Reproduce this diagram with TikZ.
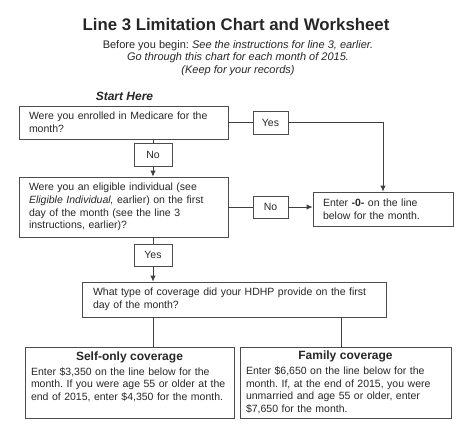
\documentclass[tikz,border=0pt]{standalone}
\usepackage{fontspec}
\setmainfont{Liberation Sans}
\frenchspacing
\usetikzlibrary{arrows.meta,positioning}

\tikzstyle{block} = [rectangle, draw=black!70, line width=0.8pt, text=black!85, align=left, font=\fontsize{10.5}{12.6}\selectfont, inner xsep=10pt, inner ysep=0pt]
\tikzstyle{answer} = [rectangle, draw=black!70, line width=0.8pt, text=black!85, font=\fontsize{10.5}{12.6}\selectfont, inner xsep=0pt, inner ysep=0pt]
\tikzstyle{arrow} = [draw=black!75, line width=0.9pt, -{Latex[length=6pt,width=5.5pt]}]
\tikzstyle{line} = [draw=black!75, line width=0.9pt]

\begin{document}
\begin{tikzpicture}[x=1pt, y=-1pt, node distance=32pt]
    \useasboundingbox (0,0) rectangle (474,433);

    % heading
    \node[font=\fontsize{16.8}{20}\selectfont\bfseries, text=black!85] (title) at (236,25) {Line 3 Limitation Chart and Worksheet};
    \node[font=\fontsize{11}{12.5}\selectfont, text=black!85, align=center] (intro) at (238,58) {Before you begin: \textit{See the instructions for line 3, earlier.}\\ \textit{Go through this chart for each month of 2015.}\\ \textit{(Keep for your records)}};
    \node[font=\fontsize{12}{14}\selectfont\bfseries\itshape, text=black!85] (start) at (124.5,96) {Start Here};

    % questions
    \node[block, text width=189pt, minimum height=33pt] (medicare) at (123.5,122.5) {Were you enrolled in Medicare for the\\ month?};
    \node[block, text width=189pt, minimum height=60pt] (elig) at (123.5,207) {Were you an eligible individual (see\\ \textit{Eligible Individual,} earlier) on the first\\ day of the month (see the line 3\\ instructions, earlier)?};
    \node[block, text width=120pt, minimum height=34pt] (enter) at (383,209) {Enter \textbf{-0-} on the line\\ below for the month.};
    \node[block, text width=282pt, inner xsep=11pt, minimum height=35pt] (coverage) at (234,299.5) {What type of coverage did your HDHP provide on the first\\ day of the month?};
    \node[block, text width=197pt, inner xsep=6pt, minimum height=71pt] (self) at (129.5,382.5) {\makebox[\linewidth]{\fontsize{12}{14}\selectfont\bfseries Self-only coverage}\\[2pt] Enter \$3,350 on the line below for the\\ month. If you were age 55 or older at the\\ end of 2015, enter \$4,350 for the month.\\ \mbox{}};
    \node[block, text width=199pt, inner xsep=6pt, minimum height=71pt] (family) at (345.5,382.5) {\makebox[\linewidth]{\fontsize{12}{14}\selectfont\bfseries Family coverage}\\[2pt] Enter \$6,650 on the line below for the\\ month. If, at the end of 2015, you were\\ unmarried and age 55 or older, enter\\ \$7,650 for the month.};

    % answers
    \node[answer, minimum width=35pt, minimum height=23pt, right of=medicare, node distance=147pt] (yes1) {Yes};
    \node[answer, minimum width=38pt, minimum height=23pt, below of=medicare, xshift=29.5pt] (no1) {No};
    \node[answer, minimum width=35pt, minimum height=22pt, right of=elig, node distance=147pt] (no2) {No};
    \node[answer, minimum width=38pt, minimum height=22pt, below of=elig, xshift=29.5pt, node distance=48pt] (yes2) {Yes};

    % lines
    \draw [line] (yes1.west -| medicare.east) -- (yes1.west);
    \draw [arrow] (yes1.east) -| (enter.north);
    \draw [line] (no1) -- (no1 |- medicare.south);
    \draw [arrow] (no1) -- (no1 |- elig.north);
    \draw [line] (no2.west -| elig.east) -- (no2.west);
    \draw [arrow] (no2.east) -- (no2.east -| enter.west);
    \draw [line] (yes2) -- (yes2 |- elig.south);
    \draw [arrow] (yes2) -- (yes2 |- coverage.north);
    \draw [line] (yes2 |- coverage.south) -- (yes2 |- self.north);
    \draw [line] ([xshift=-4.5pt]family.north |- coverage.south) -- ([xshift=-4.5pt]family.north);
\end{tikzpicture}
\end{document}
